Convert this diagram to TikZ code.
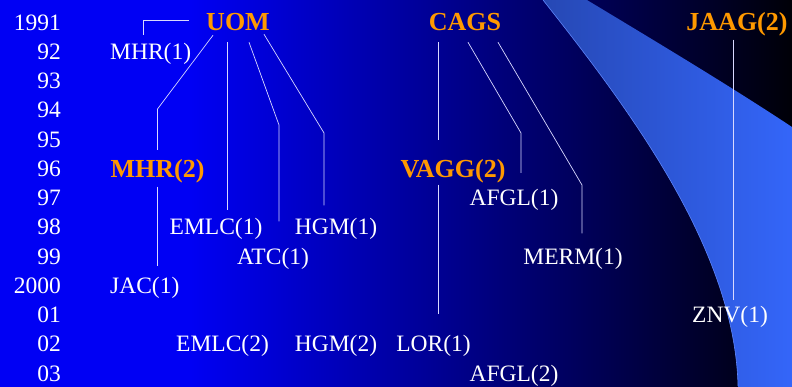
\documentclass[tikz,border=0pt]{standalone}
\usepackage{fontspec}
\setmainfont{Liberation Serif}
\newfontfamily\chartfont{Liberation Serif}
\definecolor{bgleft}{RGB}{0,0,244}
\definecolor{bgmid}{RGB}{0,0,128}
\definecolor{bgright}{RGB}{0,0,6}
\definecolor{swooshleft}{RGB}{38,72,180}
\definecolor{swooshright}{RGB}{52,102,250}
\definecolor{grouporange}{RGB}{255,153,0}
\tikzset{
  year/.style={anchor=base east,inner sep=0pt,text=white,font=\chartfont\fontsize{23.5}{28}\selectfont},
  firm/.style={anchor=base,inner sep=0pt,text=white,font=\chartfont\fontsize{23.5}{28}\selectfont},
  group/.style={anchor=base,inner sep=0pt,text=grouporange,font=\chartfont\fontsize{26}{30}\selectfont\bfseries},
  link/.style={draw=white!85!blue,line width=0.7pt}
}
\begin{document}
\begin{tikzpicture}[x=1pt,y=-1pt]
\useasboundingbox (0,0) rectangle (792,386);
% background
\fill[bgleft] (-3,-3) rectangle (795,389);
\shade[left color=bgleft,middle color=bgmid,right color=bgright] (190,-3) rectangle (795,389);
\shade[left color=swooshleft,right color=swooshright] (543,-3) -- (543,0) .. controls (630,110) and (735,250) .. (738,386)
  -- (738.5,389) -- (795,389) -- (795,127) -- (792,127) .. controls (730,86) and (660,44) .. (587,0) -- (587,-3) -- cycle;
\draw[swooshright!80!white,line width=0.6pt] (543,0) .. controls (630,110) and (735,250) .. (738,386);

% years
\foreach \yr [count=\i from 0] in {1991,92,93,94,95,96,97,98,99,2000,01,02,03}
  \node[year] (y\i) at (61,{30+29.25*\i}) {\yr};

% groups
\node[group] (uom) at (238,30.8) {UOM};
\node[group] (cags) at (465,30.8) {CAGS};
\node[group] (jaag) at (737,30.8) {JAAG(2)};
\node[group] (mhrtwo) at (157.5,177) {MHR(2)};
\node[group] (vagg) at (453,177) {VAGG(2)};

% firms
\node[firm,anchor=base west] (mhrone) at (110,59.3) {MHR(1)};
\node[firm] (afglone) at (514,205.5) {AFGL(1)};
\node[firm] (emlcone) at (216,234.8) {EMLC(1)};
\node[firm] (hgmone) at (336,234.8) {HGM(1)};
\node[firm] (atc) at (273,264) {ATC(1)};
\node[firm] (merm) at (573,264) {MERM(1)};
\node[firm,anchor=base west] (jac) at (110,293.3) {JAC(1)};
\node[firm] (znv) at (730,322.5) {ZNV(1)};
\node[firm] (emlctwo) at (222.5,351.8) {EMLC(2)};
\node[firm] (hgmtwo) at (336,351.8) {HGM(2)};
\node[firm] (lor) at (433.5,351.8) {LOR(1)};
\node[firm] (afgltwo) at (514,381) {AFGL(2)};

% links
\draw[link] ([xshift=-17pt,yshift=2pt]uom.west) -| ([xshift=33pt,yshift=8pt]mhrone.north west);
\draw[link] ([xshift=-25pt,yshift=-4pt]uom.south) -- (mhrtwo.north |- 0,109) -- ([yshift=9pt]mhrtwo.north);
\draw[link] ([xshift=-11pt,yshift=-11pt]uom.south) -- ([xshift=11pt,yshift=8pt]emlcone.north);
\draw[link] ([xshift=11pt,yshift=-11pt]uom.south) -- ([xshift=6pt]atc.north |- 0,125) -- ([xshift=6pt,yshift=26pt]atc.north);
\draw[link] ([xshift=26pt,yshift=-3pt]uom.south) -- ([xshift=-12pt]hgmone.north |- 0,133) -- ([xshift=-12pt,yshift=13pt]hgmone.north);
\draw[link] ([xshift=-27pt,yshift=-11pt]cags.south) -- ([xshift=-15pt,yshift=19pt]vagg.north);
\draw[link] ([xshift=3pt,yshift=-11pt]cags.south) -- ([xshift=7pt]afglone.north |- 0,133) -- ([xshift=7pt,yshift=16pt]afglone.north);
\draw[link] ([xshift=33pt,yshift=-11pt]cags.south) -- ([xshift=9pt]merm.north |- 0,185) -- ([xshift=9pt,yshift=14pt]merm.north);
\draw[link] ([xshift=-4pt,yshift=-3pt]jaag.south) -- ([xshift=3pt,yshift=6pt]znv.north);
\draw[link] ([xshift=-15pt,yshift=-2pt]vagg.south) -- ([xshift=4.5pt,yshift=21pt]lor.north);
\draw[link] ([yshift=-4pt]mhrtwo.south) -- ([yshift=11pt]mhrtwo.south |- jac.north);
\end{tikzpicture}
\end{document}
